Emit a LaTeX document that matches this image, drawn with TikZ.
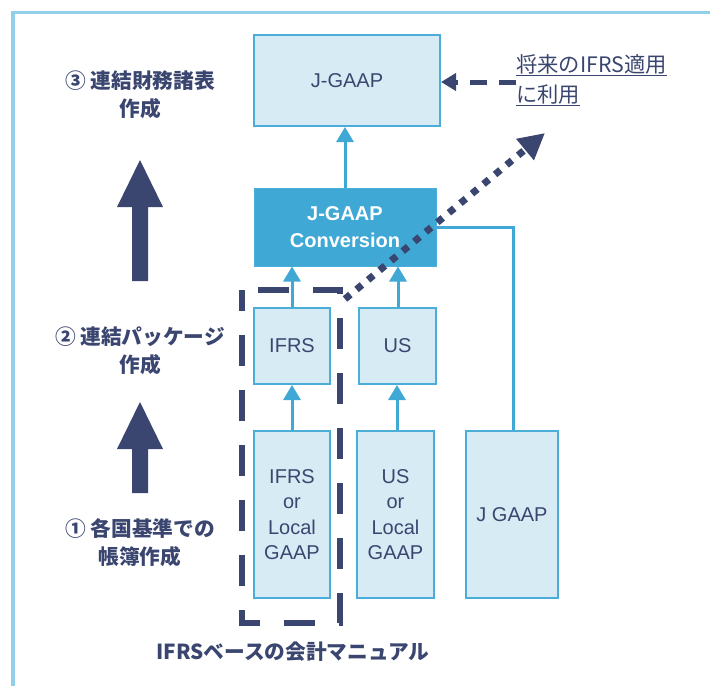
\documentclass[tikz,border=0pt]{standalone}
\usepackage{fontspec}
\setmainfont{Liberation Sans}
\newfontfamily\jp{Noto Sans CJK JP}
\usetikzlibrary{arrows.meta}
\definecolor{navy}{HTML}{3B4670}
\definecolor{boxfill}{HTML}{D6EBF4}
\definecolor{boxline}{HTML}{4AAED9}
\definecolor{convfill}{HTML}{3FA8D5}
\definecolor{framec}{HTML}{92D0E9}
\tikzset{
  lbox/.style={draw=boxline, line width=2pt, fill=boxfill, text=navy, inner sep=0pt,
     align=center, font=\fontsize{20}{25.5}\selectfont},
  conv/.style={draw=boxline, line width=1pt, fill=convfill, text=white, inner sep=0pt,
     align=center, font=\fontsize{20}{26.5}\selectfont\bfseries},
  barrow/.style={draw=convfill, line width=3pt, -{Triangle[length=15pt,width=17pt]}},
  bline/.style={draw=convfill, line width=3pt},
  jplab/.style={text=navy, align=center, font=\jp\bfseries\fontsize{20.7}{28}\selectfont},
  bigarrow/.style={fill=navy, draw=none}
}
\begin{document}
\begin{tikzpicture}[x=1pt,y=-1pt]
\useasboundingbox (0,0) rectangle (710,686);
% frame
\draw[framec, line width=3.5pt] (13,686) -- (13,12.5) -- (710,12.5);

% boxes
\node[lbox, minimum width=186pt, minimum height=91pt] (jgaap) at (347,80.5) {J-GAAP};
\node[conv, minimum width=182pt, minimum height=78pt] (conv) at (345,227) {J-GAAP\\Conversion};
\node[lbox, minimum width=76pt, minimum height=76pt] (ifrs) at (292,346) {IFRS};
\node[lbox, minimum width=77pt, minimum height=76pt] (us) at (397.5,346) {US};
\node[lbox, minimum width=76pt, minimum height=167pt] (ifrsl) at (292,514.5) {IFRS\\or\\Local\\GAAP};
\node[lbox, minimum width=77pt, minimum height=167pt] (usl) at (395.5,514.5) {US\\or\\Local\\GAAP};
\node[lbox, minimum width=92pt, minimum height=167pt] (jg) at (512,514.5) {J GAAP};

% blue arrows
\draw[barrow] (conv.north) -- (jgaap.south -| conv.north);
\draw[barrow] (ifrs.north) -- (conv.south -| ifrs.north);
\draw[barrow] (us.north -| 398,0) -- (conv.south -| 398,0);
\draw[barrow] (ifrsl.north) -- (ifrs.south);
\draw[barrow] (usl.north -| 397,0) -- (us.south -| 397,0);
\coordinate (jcorner) at (513,227);
\draw[bline] (jg.north -| jcorner) -- (jcorner) -- (conv.east |- jcorner);

% dashed manual box
\coordinate (mtl) at (242,290);
\coordinate (mbr) at (340,623);
\draw[navy, line width=6pt, dash pattern=on 31pt off 24pt, dash phase=10pt] (mtl) rectangle (mbr);

% dotted arrow
\coordinate (dstart) at (345,299);
\coordinate (dend) at (545,133);
\draw[navy, line width=7pt, dash pattern=on 7pt off 8pt, -{Triangle[length=26pt,width=26pt]}] (dstart) -- (dend);

% future text and dashed arrow
\node[text=navy, anchor=north west, align=left, inner sep=0pt,
      font=\jp\fontsize{21.3}{30}\selectfont] (future) at (516,54)
      {\underline{将来のIFRS適用}\\\underline{に利用}};
\draw[navy, line width=5pt, dash pattern=on 17pt off 12pt, dash phase=0pt,
      -{Triangle[length=15pt,width=17pt]}] (future.west |- 0,82) -- (jgaap.east |- 0,82);

% left labels
\node[jplab] (l3) at (140,95) {③ 連結財務諸表\\作成};
\node[jplab] (l2) at (140,351) {② 連結パッケージ\\作成};
\node[jplab] (l1) at (140,543) {① 各国基準での\\帳簿作成};
\node[jplab] (lm) at (293,652) {IFRSベースの会計マニュアル};

% big arrows
\fill[bigarrow] (140,160) -- (163,207) -- (148,207) -- (148,281) -- (132,281) -- (132,207) -- (117,207) -- cycle;
\fill[bigarrow] (140,402) -- (163,449) -- (148,449) -- (148,493) -- (132,493) -- (132,449) -- (117,449) -- cycle;
\end{tikzpicture}
\end{document}
